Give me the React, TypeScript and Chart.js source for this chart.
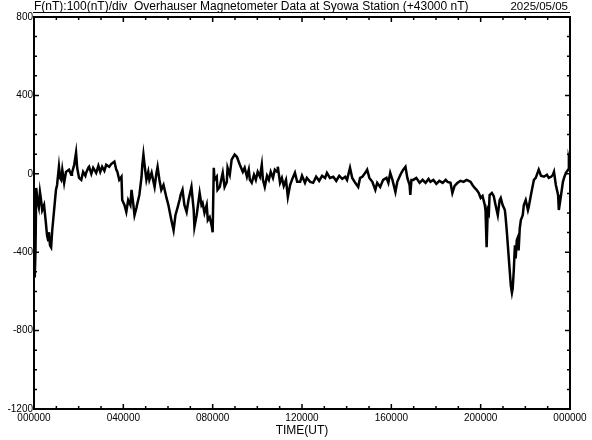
import React, { useEffect, useRef } from "react";
import { Chart, registerables } from "chart.js";

Chart.register(...registerables);

// Time of day in minutes (UT)
const minutes = [
  0, 2, 4, 6, 9, 13, 16, 19, 22, 27,
  32, 35, 38, 40, 43, 46, 49, 54, 59, 62,
  67, 70, 73, 76, 81, 86, 94, 100, 102, 108,
  113, 116, 121, 127, 132, 138, 140, 146, 148, 154,
  159, 167, 173, 178, 183, 189, 194, 202, 208, 216,
  221, 224, 229, 235, 237, 243, 248, 253, 259, 262,
  267, 270, 275, 278, 283, 289, 291, 294, 297, 302,
  307, 310, 316, 321, 324, 329, 332, 337, 342, 348,
  356, 361, 369, 375, 380, 386, 391, 394, 399, 404,
  410, 415, 423, 429, 431, 437, 445, 450, 453, 458,
  464, 467, 472, 477, 480, 483, 485, 491, 493, 499,
  504, 507, 512, 518, 520, 526, 531, 539, 545, 553,
  561, 566, 572, 577, 580, 585, 591, 596, 601, 607,
  612, 615, 620, 626, 631, 636, 642, 647, 653, 655,
  661, 666, 671, 677, 682, 688, 693, 701, 707, 715,
  720, 728, 733, 742, 750, 758, 766, 774, 782, 787,
  795, 804, 812, 820, 828, 836, 841, 849, 855, 863,
  871, 876, 882, 890, 895, 901, 909, 917, 922, 930,
  938, 947, 952, 957, 963, 971, 976, 982, 987, 992,
  998, 1003, 1009, 1011, 1014, 1019, 1027, 1036, 1044, 1052,
  1060, 1065, 1073, 1081, 1089, 1098, 1106, 1111, 1119, 1124,
  1130, 1138, 1146, 1154, 1162, 1168, 1173, 1178, 1184, 1189,
  1195, 1200, 1205, 1211, 1213, 1216, 1219, 1222, 1224, 1230,
  1235, 1240, 1246, 1251, 1254, 1259, 1265, 1267, 1270, 1276,
  1281, 1284, 1286, 1289, 1292, 1294, 1297, 1300, 1302, 1305,
  1308, 1313, 1316, 1321, 1327, 1329, 1335, 1343, 1348, 1356,
  1362, 1370, 1378, 1383, 1389, 1394, 1397, 1402, 1408, 1410,
  1416, 1421, 1424, 1429, 1435, 1437, 1440,
];

// F (nT) relative to 43000 nT
const fValues = [
  -134, -529, -391, -72, -134, -170, -93, -134, -185, -159,
  -252, -314, -339, -298, -365, -375, -288, -185, -82, -57,
  36, -21, -31, 21, -46, 10, 21, -5, 5, 46,
  108, 31, -21, -31, 10, -10, 5, 31, 36, 0,
  31, 5, 41, 10, 36, 15, 46, 36, 51, 62,
  21, 10, -31, -15, -134, -159, -195, -134, -159, -82,
  -159, -211, -175, -149, -108, -15, 46, 98, 46, -31,
  10, -31, 5, -41, -67, 5, 36, -31, -82, -57,
  -123, -159, -236, -288, -211, -170, -134, -108, -82, -159,
  -195, -134, -67, -185, -272, -211, -98, -159, -149, -200,
  -159, -236, -221, -262, -298, 31, -31, -15, -82, -67,
  -21, 5, -67, -41, 31, -5, 72, 98, 87, 46,
  10, 31, -15, 21, -31, -46, -5, -31, 10, -15,
  46, -31, -67, -10, -31, 10, -21, 21, 10, 36,
  -46, -21, -62, -31, -118, -57, -31, 5, -41, -41,
  -10, -46, -21, -41, -46, -15, -36, -10, -21, 5,
  -21, -15, -36, -10, -26, -15, -31, 31, -21, -46,
  -67, -21, -15, 5, 21, -21, -41, -82, -46, -67,
  -31, -21, -46, 5, -31, -93, -41, -15, 5, 21,
  36, -21, -57, -108, -31, -31, -21, -46, -31, -46,
  -26, -41, -31, -51, -36, -46, -31, -41, -46, -98,
  -62, -46, -36, -41, -31, -36, -41, -57, -72, -82,
  -98, -123, -113, -159, -185, -375, -185, -200, -108, -98,
  -113, -159, -211, -134, -123, -159, -185, -221, -288, -442,
  -571, -607, -586, -493, -365, -432, -339, -324, -391, -278,
  -236, -211, -159, -134, -185, -170, -108, -31, -21, 21,
  -10, -15, -5, -21, -15, -5, 10, -57, -108, -185,
  -108, -41, -21, 5, 21, 72, 46,
];

const xLabelMinutes = [0, 240, 480, 720, 960, 1200, 1440];
const xLabels = ["000000", "040000", "080000", "120000", "160000", "200000", "000000"];
const yLabelValues = [800, 400, 0, -400, -800, -1200];
const titleText = "F(nT):100(nT)/div  Overhauser Magnetometer Data at Syowa Station (+43000 nT)";
const dateText = "2025/05/05";
const xAxisTitle = "TIME(UT)";

const FONT = '"Liberation Sans", Arial, sans-serif';

const framePlugin = {
  id: "frame",
  afterDraw(chart: any) {
    const { ctx, chartArea, scales } = chart;
    const { left, right, top, bottom } = chartArea;
    const x = scales.x;
    const y = scales.y;
    ctx.save();
    ctx.strokeStyle = "#000";
    ctx.fillStyle = "#000";
    ctx.lineWidth = 2;
    ctx.strokeRect(left, top, right - left, bottom - top);

    // ticks
    ctx.lineWidth = 1.5;
    ctx.beginPath();
    for (let m = 0; m <= 1440; m += 60) {
      const px = x.getPixelForValue(m);
      const len = m % 240 === 0 ? 5 : 3;
      ctx.moveTo(px, bottom);
      ctx.lineTo(px, bottom - len);
      ctx.moveTo(px, top);
      ctx.lineTo(px, top + len);
    }
    for (let v = -1200; v <= 800; v += 100) {
      const py = y.getPixelForValue(v);
      const len = v % 400 === 0 ? 5 : 3;
      ctx.moveTo(left, py);
      ctx.lineTo(left + len, py);
      ctx.moveTo(right, py);
      ctx.lineTo(right - len, py);
    }
    ctx.stroke();

    // x labels
    ctx.font = `10px ${FONT}`;
    ctx.textAlign = "center";
    ctx.textBaseline = "middle";
    xLabelMinutes.forEach((m, i) => {
      ctx.fillText(xLabels[i], x.getPixelForValue(m), bottom + 9);
    });
    // y labels
    ctx.textAlign = "right";
    yLabelValues.forEach((v) => {
      ctx.fillText(String(v), left - 1, y.getPixelForValue(v));
    });
    // axis title
    ctx.font = `12px ${FONT}`;
    ctx.textAlign = "center";
    ctx.fillText(xAxisTitle, (left + right) / 2, bottom + 22);

    // title
    ctx.font = `12px ${FONT}`;
    ctx.textBaseline = "alphabetic";
    ctx.textAlign = "left";
    ctx.fillText(titleText, left, 10);
    ctx.font = `11.5px ${FONT}`;
    ctx.textAlign = "right";
    ctx.fillText(dateText, right - 2, 10);
    ctx.lineWidth = 1;
    ctx.beginPath();
    ctx.moveTo(left - 1, 12.5);
    ctx.lineTo(right, 12.5);
    ctx.stroke();
    ctx.restore();
  },
};

export default function App() {
  const ref = useRef<HTMLCanvasElement | null>(null);
  useEffect(() => {
    if (!ref.current) return;
    const chart = new Chart(ref.current, {
      type: "line",
      data: {
        datasets: [
          {
            data: minutes.map((m, i) => ({ x: m, y: fValues[i] })),
            borderColor: "#000",
            borderWidth: 2.5,
            pointRadius: 0,
            tension: 0,
            fill: false,
          },
        ],
      },
      options: {
        responsive: false,
        animation: false,
        events: [],
        layout: { padding: { left: 34, right: 22, top: 17, bottom: 31 } },
        scales: {
          x: { type: "linear", min: 0, max: 1440, display: false },
          y: { type: "linear", min: -1200, max: 800, display: false },
        },
        plugins: { legend: { display: false }, tooltip: { enabled: false }, title: { display: false } },
      },
      plugins: [framePlugin],
    });
    return () => chart.destroy();
  }, []);
  return (
    <div style={{ position: "fixed", left: 0, top: 0, width: 592, height: 440, background: "#fff" }}>
      <canvas ref={ref} width={592} height={440} style={{ width: 592, height: 440, display: "block" }} />
    </div>
  );
}
